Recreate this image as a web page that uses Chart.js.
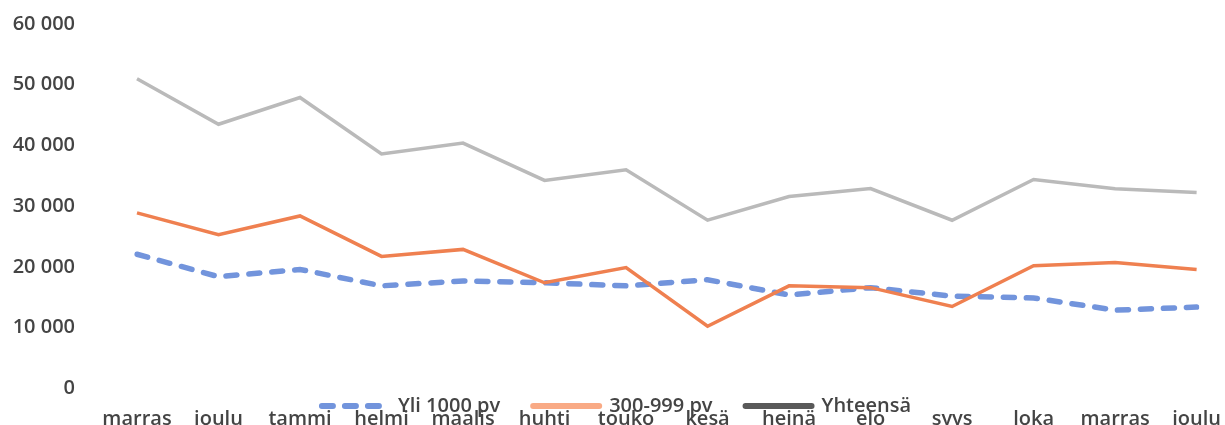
<!DOCTYPE html>
<html>
<head>
<meta charset="utf-8">
<script src="https://cdn.jsdelivr.net/npm/chart.js@4"></script>
<style>
  html, body { margin: 0; padding: 0; background: #fff; overflow: hidden; }
  canvas { display: block; }
</style>
</head>
<body>
<canvas id="chart" width="1225" height="425"></canvas>
<script>
const months = ['marras', 'joulu', 'tammi', 'helmi', 'maalis', 'huhti', 'touko',
  'kesä', 'heinä', 'elo', 'syys', 'loka', 'marras', 'joulu'];

const yli1000 = [22100, 18400, 19600, 16900, 17700, 17400, 16900, 17900, 15400, 16600, 15200, 14900, 12900, 13400];
const v300_999 = [28900, 25300, 28400, 21750, 22900, 17400, 19900, 10250, 16900, 16600, 13500, 20200, 20750, 19600];
const yhteensa = [51000, 43500, 47900, 38600, 40400, 34250, 36000, 27700, 31600, 32900, 27700, 34400, 32900, 32250];

const seriesNames = ['Yli 1000 pv', '300-999 pv', 'Yhteensä'];
const lineColors = ['#7294dc', '#ef8050', '#bababa'];
const legendColors = ['#7294dc', '#f9aa85', '#595959'];

const font = { family: 'Open Sans', size: 20, weight: '600' };
const textColor = '#444444';

const formatTick = v => String(v).replace(/\B(?=(\d{3})+(?!\d))/g, ' ');

// the legend is drawn over the month labels, as in the scan
const legendOverlap = {
  id: 'legendOverlap',
  afterLayout(chart) {
    const lg = chart.legend;
    const h = lg.height;
    lg.top = chart.chartArea.bottom - 25.5;
    lg.bottom = lg.top + h;
    lg.left += 18;
    lg.right += 18;
  }
};

new Chart(document.getElementById('chart'), {
  type: 'line',
  data: {
    labels: months,
    datasets: [
      {
        label: seriesNames[0],
        data: yli1000,
        borderColor: lineColors[0],
        borderWidth: 5.5,
        borderDash: [11, 12],
        borderCapStyle: 'round',
        order: 3
      },
      {
        label: seriesNames[1],
        data: v300_999,
        borderColor: lineColors[1],
        borderWidth: 3.5,
        order: 2
      },
      {
        label: seriesNames[2],
        data: yhteensa,
        borderColor: lineColors[2],
        borderWidth: 3.5,
        order: 1
      }
    ]
  },
  options: {
    responsive: false,
    animation: false,
    elements: {
      point: { radius: 0 },
      line: { tension: 0, fill: false }
    },
    layout: { padding: { top: 24, right: 28, left: 0, bottom: -66 } },
    plugins: {
      tooltip: { enabled: false },
      legend: {
        position: 'bottom',
        labels: {
          font: font,
          color: textColor,
          usePointStyle: true,
          pointStyle: 'line',
          pointStyleWidth: 66,
          boxHeight: 20,
          padding: 33,
          sort: (a, b) => a.datasetIndex - b.datasetIndex,
          generateLabels(chart) {
            const items = Chart.defaults.plugins.legend.labels.generateLabels(chart);
            items.forEach(it => {
              const ds = chart.data.datasets[it.datasetIndex];
              it.strokeStyle = legendColors[it.datasetIndex];
              it.fillStyle = legendColors[it.datasetIndex];
              it.lineWidth = 6;
              it.lineCap = 'round';
              it.lineDash = ds.borderDash || [];
            });
            return items;
          }
        }
      }
    },
    scales: {
      x: {
        offset: false,
        grid: { drawOnChartArea: false, drawTicks: true, tickLength: 15, tickColor: 'transparent' },
        border: { display: false },
        ticks: { font: font, color: textColor, padding: 4, maxRotation: 0, autoSkip: false },
        afterFit(scale) { scale.height = 39.5; }
      },
      y: {
        min: 0,
        max: 60000,
        grid: { drawOnChartArea: false, drawTicks: true, tickLength: 58, tickColor: 'transparent' },
        border: { display: false },
        ticks: {
          stepSize: 10000,
          font: font,
          color: textColor,
          padding: 4,
          callback: formatTick
        },
        afterFit(scale) { scale.width = 137; }
      }
    }
  },
  plugins: [legendOverlap]
});
</script>
</body>
</html>
